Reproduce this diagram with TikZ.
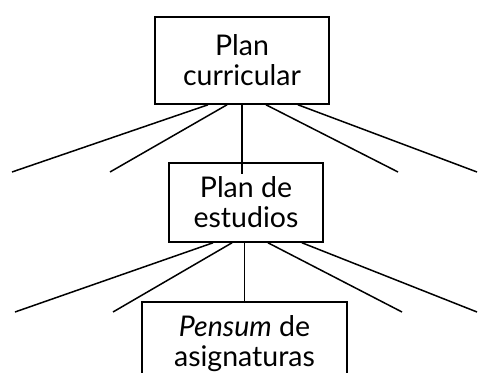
\documentclass[tikz,border=0pt]{standalone}
\usepackage{fontspec}
\setmainfont{Lato}
\usetikzlibrary{positioning, calc}
\tikzset{
  planbox/.style = {draw, rectangle, line width=1.6pt,
                    align=center, inner sep=0pt,
                    font=\fontsize{28.5}{30}\selectfont},
  rama/.style    = {line width=1.5pt},
}
\begin{document}
\begin{tikzpicture}[x=1pt, y=1pt]

% ────────────────────────────────────────────────────────────
%  Canvas fixed to 478 x 372, y measured upwards from bottom
% ────────────────────────────────────────────────────────────
\useasboundingbox (0,0) rectangle (478,372);

% ═══════════════════════════════════════════════════════════
%  BOXES
% ═══════════════════════════════════════════════════════════
\node[planbox, minimum width=174pt, minimum height=87pt] (plan-cur)
  at (242, 311.5) {Plan\\curricular};

\node[planbox, minimum width=154pt, minimum height=79pt] (plan-est)
  at (246, 169.5) {Plan de\\estudios};

\node[planbox, minimum width=205pt, minimum height=84pt] (pensum)
  at (244.5, 28) {\textit{Pensum} de\\asignaturas};

% ═══════════════════════════════════════════════════════════
%  BRANCHES FROM "Plan curricular"
% ═══════════════════════════════════════════════════════════
\coordinate (cur-e1) at (12, 200);
\coordinate (cur-e2) at (110, 200);
\coordinate (cur-e3) at (398, 200);
\coordinate (cur-e4) at (477, 200);

\draw[rama] ([xshift=-34pt]plan-cur.south) -- (cur-e1);
\draw[rama] ([xshift=-15pt]plan-cur.south) -- (cur-e2);
\draw[rama] (plan-cur.south) -- ([yshift=-12pt]plan-cur.south |- plan-est.north);
\draw[rama] ([xshift=24pt]plan-cur.south)  -- (cur-e3);
\draw[rama] ([xshift=56pt]plan-cur.south)  -- (cur-e4);

% ═══════════════════════════════════════════════════════════
%  BRANCHES FROM "Plan de estudios"
% ═══════════════════════════════════════════════════════════
\coordinate (est-e1) at (15, 60);
\coordinate (est-e2) at (113, 60);
\coordinate (est-e3) at (402, 60);
\coordinate (est-e4) at (477, 60);

\draw[rama] ([xshift=-33pt]plan-est.south) -- (est-e1);
\draw[rama] ([xshift=-14pt]plan-est.south) -- (est-e2);
\draw[rama] (pensum.north |- plan-est.south) -- (pensum.north);
\draw[rama] ([xshift=22pt]plan-est.south)  -- (est-e3);
\draw[rama] ([xshift=56pt]plan-est.south)  -- (est-e4);

\end{tikzpicture}
\end{document}
